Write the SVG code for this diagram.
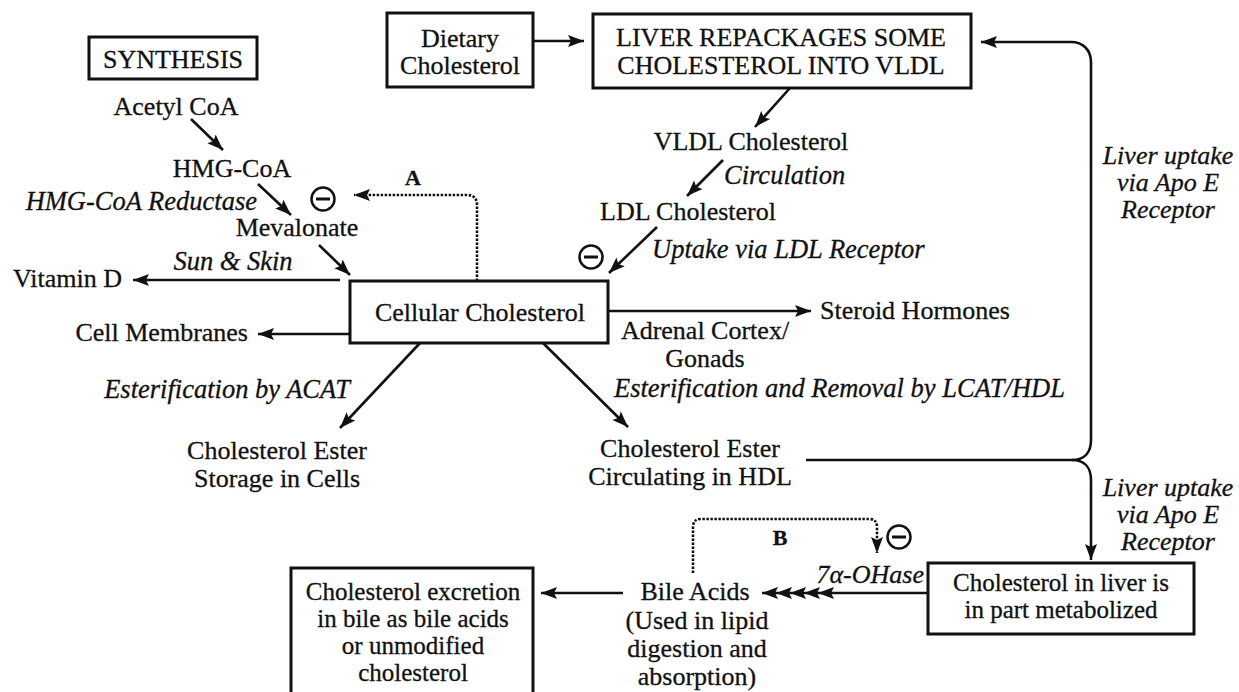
<svg xmlns="http://www.w3.org/2000/svg" width="1239" height="692" viewBox="0 0 1239 692">
<style>
text{font-family:"Liberation Serif","Times New Roman",serif;font-size:26px;fill:#111;stroke:#111;stroke-width:0.3}
.c{text-anchor:middle}
.e{text-anchor:end}
.i{font-style:italic;font-size:26.5px}
.b{font-weight:bold;font-size:22px}
.sm{font-size:25px}
.ap{font-size:26px}
.box{fill:#fff;stroke:#111;stroke-width:3}
.ln{fill:none;stroke:#111;stroke-width:2.6}
.dot{fill:none;stroke:#111;stroke-width:2.6;stroke-dasharray:2.5 1.5}
.neg circle{fill:#fff;stroke:#111;stroke-width:2.5}
.neg line{stroke:#111;stroke-width:3}
</style>
<defs>
<marker id="ah" markerUnits="userSpaceOnUse" markerWidth="17" markerHeight="12" refX="16" refY="6" orient="auto" overflow="visible">
<path d="M0,0 L16,6 L0,12 L3,6 z" fill="#111"/>
</marker>
</defs>
<rect width="1239" height="692" fill="#fff"/>

<g id="connectors">
<path class="ln" d="M191,119 L223,150" marker-end="url(#ah)"/>
<path class="ln" d="M258,184 L291,215" marker-end="url(#ah)"/>
<path class="ln" d="M319,245 L350,275" marker-end="url(#ah)"/>
<path class="ln" d="M340,280 L133,280" marker-end="url(#ah)"/>
<path class="ln" d="M350,334 L258,334" marker-end="url(#ah)"/>
<path class="ln" d="M608,311 L811,311" marker-end="url(#ah)"/>
<path class="ln" d="M420,343 L340,428" marker-end="url(#ah)"/>
<path class="ln" d="M543,343 L628,427" marker-end="url(#ah)"/>
<path class="ln" d="M657,227 L609,273" marker-end="url(#ah)"/>
<path class="ln" d="M723,160 L687,196" marker-end="url(#ah)"/>
<path class="ln" d="M790,88 L755,127" marker-end="url(#ah)"/>
<path class="ln" d="M533,41 L584,41" marker-end="url(#ah)"/>
<path class="ln" d="M806,460 H1072 C1085,460 1091,452 1091,440 V62 C1091,50 1083,42 1071,42 H981" marker-end="url(#ah)"/>
<path class="ln" d="M1072,460 C1085,460 1091,468 1091,480 V560" marker-end="url(#ah)"/>
<polyline class="ln" points="928,593 818,593 804,593 790,593 776,593 762,593" marker-mid="url(#ah)" marker-end="url(#ah)"/>
<path class="ln" d="M623,593 L541,593" marker-end="url(#ah)"/>
<path class="dot" d="M477,281 V205 Q477,195 467,195 H354" marker-end="url(#ah)"/>
<path class="dot" d="M693,573 V527 Q693,519 701,519 H869 Q877,519 877,527 V553" marker-end="url(#ah)"/>
</g>

<g id="synthesis">
<rect class="box" x="89" y="37" width="168" height="42"/>
<text class="c" x="173" y="68">SYNTHESIS</text>
</g>
<g id="acetyl"><text class="c" x="176" y="115">Acetyl CoA</text></g>
<g id="hmg"><text class="c" x="232" y="177">HMG-CoA</text></g>
<g id="hmg-red"><text class="e i" x="257" y="210">HMG-CoA Reductase</text></g>
<g id="mevalonate"><text class="c" x="297" y="236">Mevalonate</text></g>
<g id="sun"><text class="c i" x="233" y="270">Sun &amp; Skin</text></g>
<g id="vitd"><text x="13" y="287">Vitamin D</text></g>
<g id="membranes"><text class="e" x="248" y="341">Cell Membranes</text></g>
<g id="cellular">
<rect class="box" x="350" y="281" width="258" height="62"/>
<text class="c" x="480" y="321">Cellular Cholesterol</text>
</g>
<g id="acat"><text class="e i" x="350" y="398">Esterification by ACAT</text></g>
<g id="storage">
<text class="c" x="277" y="459">Cholesterol Ester</text>
<text class="c" x="277" y="487">Storage in Cells</text>
</g>
<g id="dietary">
<rect class="box" x="387" y="13" width="146" height="74"/>
<text class="c" x="460" y="47">Dietary</text>
<text class="c" x="460" y="74">Cholesterol</text>
</g>
<g id="liver">
<rect class="box" x="593" y="14" width="378" height="74"/>
<text class="c" x="781" y="46">LIVER REPACKAGES SOME</text>
<text class="c" x="781" y="74">CHOLESTEROL INTO VLDL</text>
</g>
<g id="vldl"><text class="c" x="751" y="150">VLDL Cholesterol</text></g>
<g id="circ"><text class="i" x="724" y="184">Circulation</text></g>
<g id="ldl"><text class="c" x="688" y="220">LDL Cholesterol</text></g>
<g id="uptake"><text class="i" x="652" y="258">Uptake via LDL Receptor</text></g>
<g id="steroid"><text x="820" y="319">Steroid Hormones</text></g>
<g id="adrenal">
<text class="c" x="705" y="339">Adrenal Cortex/</text>
<text class="c" x="705" y="367">Gonads</text>
</g>
<g id="lcat"><text class="i" x="614" y="397">Esterification and Removal by LCAT/HDL</text></g>
<g id="hdl">
<text class="c" x="690" y="457">Cholesterol Ester</text>
<text class="c" x="690" y="485">Circulating in HDL</text>
</g>
<g id="apoe-top">
<text class="c i ap" x="1168" y="164">Liver uptake</text>
<text class="c i ap" x="1168" y="191">via Apo E</text>
<text class="c i ap" x="1168" y="218">Receptor</text>
</g>
<g id="apoe-bottom">
<text class="c i ap" x="1168" y="496">Liver uptake</text>
<text class="c i ap" x="1168" y="523">via Apo E</text>
<text class="c i ap" x="1168" y="550">Receptor</text>
</g>
<g id="liver-metab">
<rect class="box" x="928" y="563" width="266" height="71"/>
<text class="c sm" x="1061" y="591">Cholesterol in liver is</text>
<text class="c sm" x="1061" y="618">in part metabolized</text>
</g>
<g id="ohase"><text class="e i ap" x="924" y="583">7α-OHase</text></g>
<g id="label-a"><text class="c b" x="413" y="185">A</text></g>
<g id="label-b"><text class="c b" x="780" y="545">B</text></g>
<g id="bile">
<text class="c" x="695" y="600">Bile Acids</text>
<text class="c" x="697" y="629">(Used in lipid</text>
<text class="c" x="697" y="657">digestion and</text>
<text class="c" x="697" y="685">absorption)</text>
</g>
<g id="excretion">
<rect class="box" x="291" y="568" width="242" height="130"/>
<text class="c sm" x="413" y="600">Cholesterol excretion</text>
<text class="c sm" x="413" y="627">in bile as bile acids</text>
<text class="c sm" x="413" y="654">or unmodified</text>
<text class="c sm" x="413" y="681">cholesterol</text>
</g>
<g id="inhib-1" class="neg"><circle cx="323" cy="199" r="11.5"/><line x1="316" y1="199" x2="330" y2="199"/></g>
<g id="inhib-2" class="neg"><circle cx="591" cy="257" r="11.5"/><line x1="584" y1="257" x2="598" y2="257"/></g>
<g id="inhib-3" class="neg"><circle cx="899" cy="537" r="11.5"/><line x1="892" y1="537" x2="906" y2="537"/></g>
</svg>
